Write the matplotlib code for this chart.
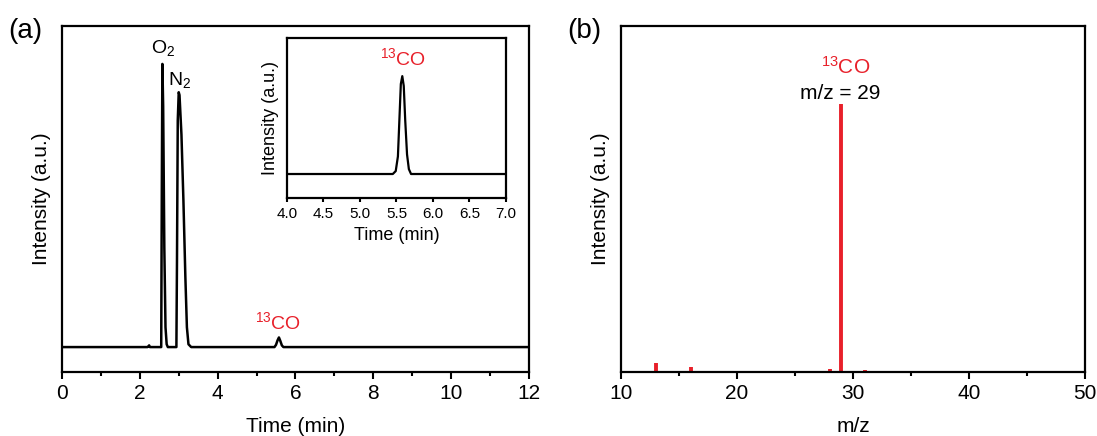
import numpy as np
import matplotlib
matplotlib.use("Agg")
import matplotlib.pyplot as plt
from matplotlib.ticker import MultipleLocator

plt.rcParams['font.family'] = ['Liberation Sans', 'DejaVu Sans']
plt.rcParams['mathtext.fontset'] = 'custom'
plt.rcParams['mathtext.rm'] = 'Liberation Sans'
plt.rcParams['mathtext.it'] = 'Liberation Sans'

# (a) GC chromatogram
gc_time = [0.05, 2.20, 2.24, 2.26, 2.30, 2.55, 2.565, 2.58, 2.60, 2.63, 2.66, 2.69, 2.72,
           2.94, 2.955, 2.975, 3.00, 3.02, 3.07, 3.12, 3.17, 3.21, 3.25, 3.32,
           5.46, 5.50, 5.54, 5.575, 5.61, 5.65, 5.69, 12.0]
gc_int = [0.0, 0.0, 0.006, 0.0, 0.0, 0.0, 0.55, 1.0, 0.85, 0.35, 0.07, 0.01, 0.0,
          0.0, 0.30, 0.80, 0.90, 0.89, 0.75, 0.52, 0.25, 0.07, 0.01, 0.0,
          0.0, 0.008, 0.024, 0.034, 0.022, 0.006, 0.0, 0.0]

# inset: zoom on the 13CO peak
ins_time = [4.0, 4.5, 5.0, 5.45, 5.49, 5.52, 5.54, 5.56, 5.58, 5.60, 5.62, 5.645,
            5.67, 5.70, 6.0, 6.5, 7.0]
ins_int = [0.0, 0.0, 0.0, 0.0, 0.03, 0.18, 0.55, 0.92, 1.0, 0.90, 0.55, 0.20,
           0.05, 0.0, 0.0, 0.0, 0.0]

# (b) mass spectrum
mz = [13, 16, 28, 29, 31]
ms_int = [0.034, 0.019, 0.012, 1.0, 0.008]

red = '#e8202a'

fig = plt.figure(figsize=(10.97, 4.36), dpi=100)
ax1 = fig.add_axes([0.0565, 0.1468, 0.4257, 0.7936])
ax2 = fig.add_axes([0.566, 0.1468, 0.423, 0.7936])
axi = fig.add_axes([0.2616, 0.5459, 0.1996, 0.367])

for ax in (ax1, ax2, axi):
    for s in ax.spines.values():
        s.set_linewidth(1.6)
    ax.set_yticks([])
    ax.tick_params(axis='x', which='major', direction='out', length=5, width=1.5, labelsize=15)
    ax.tick_params(axis='x', which='minor', direction='out', length=3, width=1.5)

# panel a
ax1.plot(gc_time, gc_int, color='black', lw=1.8)
ax1.set_xlim(0, 12)
ax1.set_ylim(-0.088, 1.134)
ax1.xaxis.set_major_locator(MultipleLocator(2))
ax1.xaxis.set_minor_locator(MultipleLocator(1))
ax1.set_xlabel('Time (min)', fontsize=15, labelpad=10)
ax1.set_ylabel('Intensity (a.u.)', fontsize=15, labelpad=8)
ax1.text(2.6, 1.056, r'O$_2$', fontsize=14, ha='center', va='center')
ax1.text(3.02, 0.943, r'N$_2$', fontsize=14, ha='center', va='center')
ax1.text(5.55, 0.088, r'$^{13}$CO', fontsize=14, color=red, ha='center', va='center')
fig.text(0.023, 0.93, '(a)', fontsize=20, ha='center', va='center')

# inset
axi.plot(ins_time, ins_int, color='black', lw=1.6)
axi.set_xlim(4.0, 7.0)
axi.set_ylim(-0.245, 1.39)
axi.xaxis.set_major_locator(MultipleLocator(0.5))
axi.tick_params(axis='x', which='major', length=3, labelsize=11)
axi.set_xlabel('Time (min)', fontsize=13, labelpad=4)
axi.set_ylabel('Intensity (a.u.)', fontsize=13, labelpad=6)
axi.text(5.59, 1.18, r'$^{13}$CO', fontsize=14, color=red, ha='center', va='center')

# panel b
ax2.vlines(mz, 0, ms_int, color=red, lw=2.8)
ax2.set_xlim(10, 50)
ax2.set_ylim(0, 1.29)
ax2.xaxis.set_major_locator(MultipleLocator(10))
ax2.xaxis.set_minor_locator(MultipleLocator(5))
ax2.set_xlabel('m/z', fontsize=15, labelpad=10)
ax2.set_ylabel('Intensity (a.u.)', fontsize=15, labelpad=8)
ax2.text(29.4, 1.138, r'$^{13}$CO', fontsize=15, color=red, ha='center', va='center')
ax2.text(28.9, 1.04, 'm/z = 29', fontsize=15, ha='center', va='center')
fig.text(0.533, 0.93, '(b)', fontsize=20, ha='center', va='center')

fig.savefig('out.png', dpi=100)
